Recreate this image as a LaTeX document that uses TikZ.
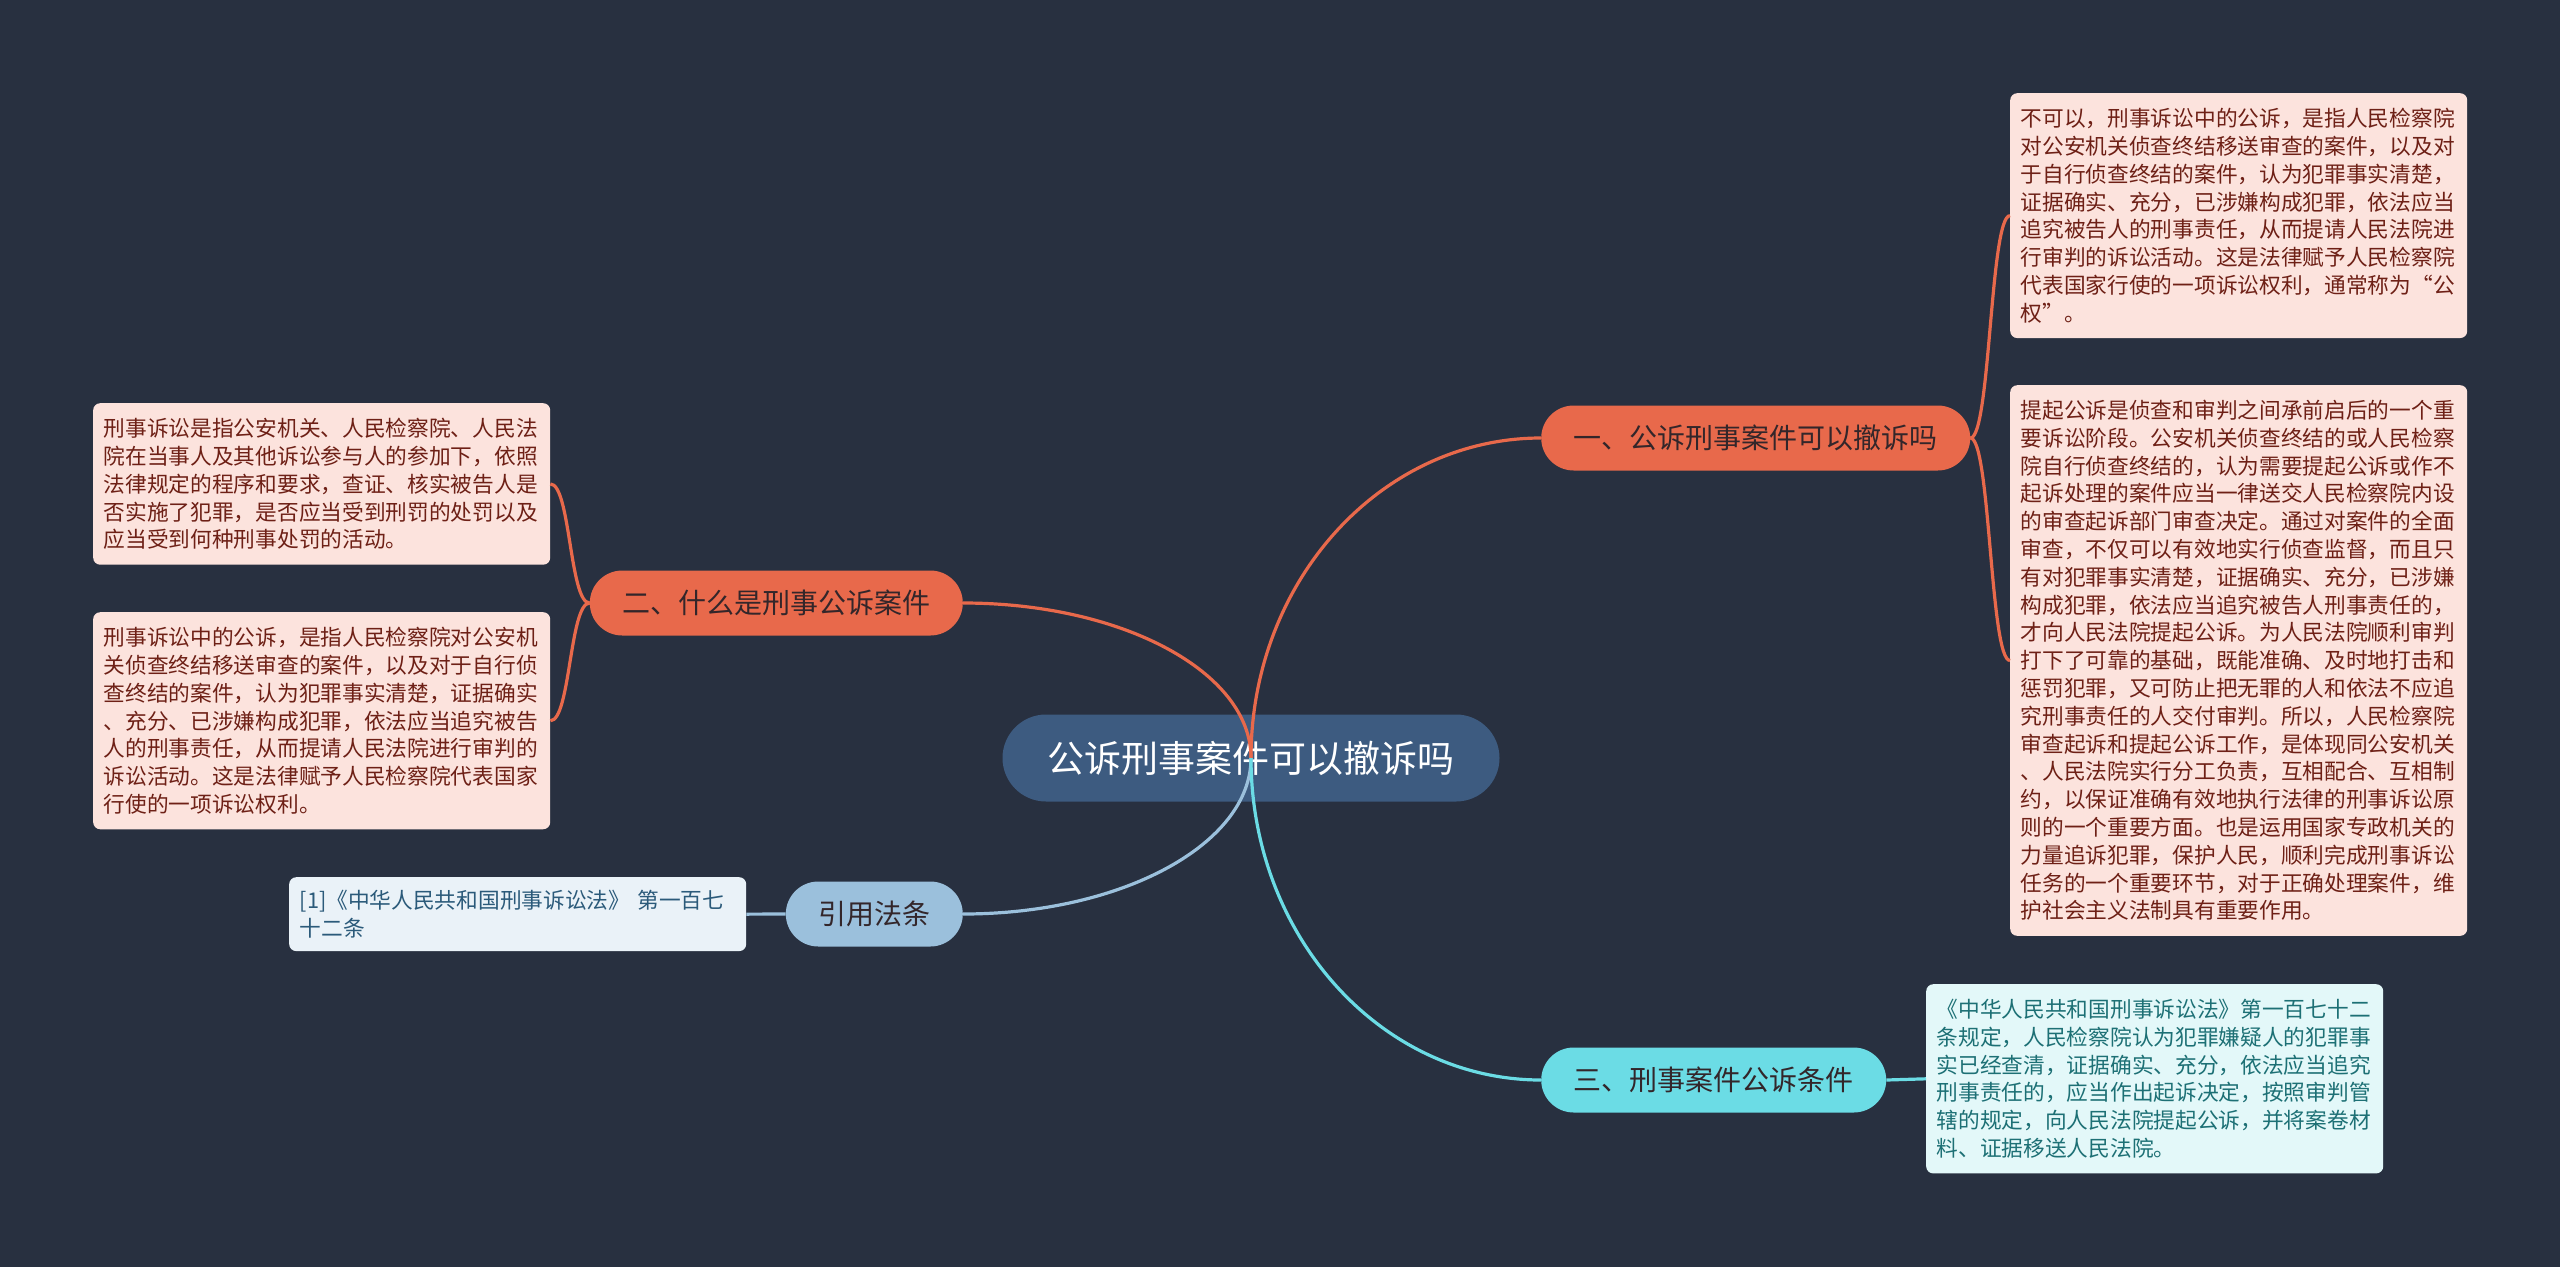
\documentclass[tikz,border=0pt]{standalone}
\usepackage{fontspec}
\setmainfont{Noto Sans CJK SC}
\usepackage{tikz}
\usetikzlibrary{positioning}
\definecolor{bgnavy}{HTML}{283040}
\definecolor{rootblue}{HTML}{3D5B80}
\definecolor{orangebr}{HTML}{E8694B}
\definecolor{cyanbr}{HTML}{6BDCE5}
\definecolor{bluebr}{HTML}{9BC0DC}
\definecolor{darktext}{HTML}{33262A}
\definecolor{pinkleaf}{HTML}{FCE3DD}
\definecolor{redtext}{HTML}{6E2016}
\definecolor{cyanleaf}{HTML}{E3F8F9}
\definecolor{tealtext}{HTML}{1D7075}
\definecolor{citeleaf}{HTML}{EAF2F8}
\definecolor{citetext}{HTML}{2B5A7A}
\tikzset{
  rootbox/.style={fill=rootblue, text=white, rounded corners=43.5pt, minimum height=87pt,
    inner xsep=45pt, inner ysep=0pt, font=\fontsize{37pt}{44pt}\selectfont},
  branchbox/.style={text=darktext, rounded corners=32.5pt, minimum height=65pt,
    inner xsep=32.5pt, inner ysep=0pt, font=\fontsize{28pt}{34pt}\selectfont},
  leafbox/.style={anchor=north west, rounded corners=7pt, text width=436pt, align=left,
    inner xsep=10.5pt, inner ysep=15pt, font=\fontsize{21.7pt}{27.8pt}\selectfont},
  redleaf/.style={leafbox, fill=pinkleaf, text=redtext},
  link/.style={line width=3.2pt}
}
\begin{document}
\begin{tikzpicture}[x=1pt,y=-1pt]
\fill[bgnavy] (0,0) rectangle (2560,1267);

\node[rootbox] (root) at (1251,758) {公诉刑事案件可以撤诉吗};

\node[branchbox, fill=orangebr, anchor=west] (one) at (1541,438) {一、公诉刑事案件可以撤诉吗};
\node[branchbox, fill=orangebr, anchor=east] (two) at (963,603) {二、什么是刑事公诉案件};
\node[branchbox, fill=bluebr, anchor=east] (cite) at (963,914) {引用法条};
\node[branchbox, fill=cyanbr, anchor=west] (three) at (1541,1080) {三、刑事案件公诉条件};

\begin{scope}
    \node[redleaf] (oneA) at (2010,93) {不可以，刑事诉讼中的公诉，是指人民检察院\\
    对公安机关侦查终结移送审查的案件，以及对\\
    于自行侦查终结的案件，认为犯罪事实清楚，\\
    证据确实、充分，已涉嫌构成犯罪，依法应当\\
    追究被告人的刑事责任，从而提请人民法院进\\
    行审判的诉讼活动。这是法律赋予人民检察院\\
    代表国家行使的一项诉讼权利，通常称为“公\\
    权”。};
    \node[redleaf] (oneB) at (2010,385) {提起公诉是侦查和审判之间承前启后的一个重\\
    要诉讼阶段。公安机关侦查终结的或人民检察\\
    院自行侦查终结的，认为需要提起公诉或作不\\
    起诉处理的案件应当一律送交人民检察院内设\\
    的审查起诉部门审查决定。通过对案件的全面\\
    审查，不仅可以有效地实行侦查监督，而且只\\
    有对犯罪事实清楚，证据确实、充分，已涉嫌\\
    构成犯罪，依法应当追究被告人刑事责任的，\\
    才向人民法院提起公诉。为人民法院顺利审判\\
    打下了可靠的基础，既能准确、及时地打击和\\
    惩罚犯罪，又可防止把无罪的人和依法不应追\\
    究刑事责任的人交付审判。所以，人民检察院\\
    审查起诉和提起公诉工作，是体现同公安机关\\
    、人民法院实行分工负责，互相配合、互相制\\
    约，以保证准确有效地执行法律的刑事诉讼原\\
    则的一个重要方面。也是运用国家专政机关的\\
    力量追诉犯罪，保护人民，顺利完成刑事诉讼\\
    任务的一个重要环节，对于正确处理案件，维\\
    护社会主义法制具有重要作用。};
    \node[leafbox, fill=cyanleaf, text=tealtext] (threeA) at (1926,984) {《中华人民共和国刑事诉讼法》第一百七十二\\
    条规定，人民检察院认为犯罪嫌疑人的犯罪事\\
    实已经查清，证据确实、充分，依法应当追究\\
    刑事责任的，应当作出起诉决定，按照审判管\\
    辖的规定，向人民法院提起公诉，并将案卷材\\
    料、证据移送人民法院。};
\end{scope}

\begin{scope}
    \node[redleaf] (twoA) at (93,403) {刑事诉讼是指公安机关、人民检察院、人民法\\
    院在当事人及其他诉讼参与人的参加下，依照\\
    法律规定的程序和要求，查证、核实被告人是\\
    否实施了犯罪，是否应当受到刑罚的处罚以及\\
    应当受到何种刑事处罚的活动。};
    \node[redleaf] (twoB) at (93,612) {刑事诉讼中的公诉，是指人民检察院对公安机\\
    关侦查终结移送审查的案件，以及对于自行侦\\
    查终结的案件，认为犯罪事实清楚，证据确实\\
    、充分、已涉嫌构成犯罪，依法应当追究被告\\
    人的刑事责任，从而提请人民法院进行审判的\\
    诉讼活动。这是法律赋予人民检察院代表国家\\
    行使的一项诉讼权利。};
    \node[leafbox, fill=citeleaf, text=citetext, inner ysep=13pt] (citeA) at (289,877) {[1]《中华人民共和国刑事诉讼法》 第一百七\\
    十二条};
\end{scope}

\draw[link, orangebr] (root.center) .. controls +(0,-177) and +(-160,0) .. (one.west);
\draw[link, orangebr] (root.center) .. controls +(0,-86) and +(159,0) .. (two.east);
\draw[link, bluebr] (root.center) .. controls +(0,86) and +(159,0) .. (cite.east);
\draw[link, cyanbr] (root.center) .. controls +(0,178) and +(-160,0) .. (three.west);

\foreach \leaf in {oneA,oneB}{
    \draw[link, orangebr] (one.east) .. controls +(20,0) and +(-20,0) .. (\leaf.west);
    }
\foreach \leaf in {twoA,twoB}{
    \draw[link, orangebr] (two.west) .. controls +(-20,0) and +(20,0) .. (\leaf.east);
    }
\draw[link, bluebr] (cite.west) -- (citeA.east);
\draw[link, cyanbr] (three.east) .. controls +(20,0) and +(-20,0) .. (threeA.west);

\end{tikzpicture}
\end{document}
